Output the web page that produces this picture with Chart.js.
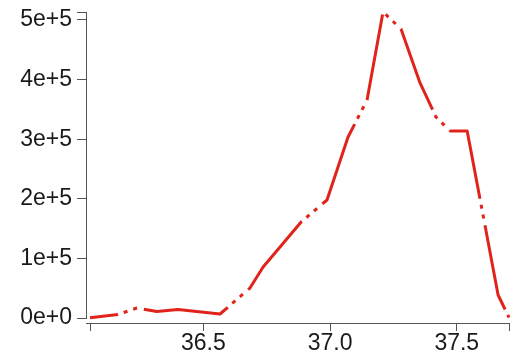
<!DOCTYPE html>
<html>
<head>
<meta charset="utf-8">
<script src="https://cdn.jsdelivr.net/npm/chart.js@4.4.1/dist/chart.umd.min.js"></script>
<style>
    html, body { margin: 0; padding: 0; background: #fff; }
    canvas { display: block; }
</style>
</head>
<body>
<canvas id="grafico" width="520" height="361"></canvas>
<script>
// datos
const valoresX = [36.053, 36.163, 36.238, 36.317, 36.400, 36.566, 36.684, 36.736, 36.886, 36.988,
    37.071, 37.146, 37.209, 37.280, 37.355, 37.418, 37.474, 37.541, 37.663, 37.706];
const valoresY = [500, 5900, 16800, 10900, 14300, 6700, 50300, 85600, 161100, 198000,
    303700, 365800, 513400, 484900, 394300, 337200, 313800, 313800, 38600, 800];

const ticksX = [36.5, 37.0, 37.5];
const etiquetasX = ["36.5", "37.0", "37.5"];
const ticksY = [0, 100000, 200000, 300000, 400000, 500000];
const etiquetasY = ["0e+0", "1e+5", "2e+5", "3e+5", "4e+5", "5e+5"];

const colorEje = "#555555";
const colorTexto = "#1a1a1a";

function sinRelleno(scale) {
    scale.paddingTop = 0;
    scale.paddingBottom = 0;
    scale.paddingLeft = 0;
    scale.paddingRight = 0;
}

document.addEventListener("DOMContentLoaded", function () {
    const ctx = document.getElementById("grafico").getContext("2d");
    const xMin = valoresX[0];
    const xMax = valoresX[valoresX.length - 1];
    const yMax = Math.max(...valoresY);
    const puntos = valoresX.map((x, i) => ({ x: x, y: valoresY[i] }));

    new Chart(ctx, {
        type: "line",
        data: {
            datasets: [
                {
                    data: puntos,
                    borderColor: "#e0241b",
                    borderWidth: 3,
                    borderDash: [87, 6, 4, 6, 4, 7],
                    borderDashOffset: 58.8,
                    borderCapStyle: "butt",
                    borderJoinStyle: "round",
                    pointRadius: 0,
                    tension: 0,
                    fill: false,
                    clip: false,
                },
            ],
        },
        options: {
            responsive: false,
            animation: false,
            layout: { padding: { left: 0, right: 11, top: 12, bottom: 43 } },
            plugins: { legend: { display: false }, tooltip: { enabled: false } },
            scales: {
                x: {
                    type: "linear",
                    min: xMin - 0.0158,
                    max: xMax,
                    position: { y: -8400 },
                    afterBuildTicks: (scale) => {
                        scale.ticks = [xMin, ...ticksX, xMax].map((v) => ({ value: v }));
                    },
                    afterFit: sinRelleno,
                    grid: { drawOnChartArea: false, drawTicks: true, tickLength: 7, color: colorEje },
                    border: { display: true, color: colorEje, width: 1 },
                    ticks: {
                        autoSkip: false,
                        maxRotation: 0,
                        padding: 0,
                        color: colorTexto,
                        font: { family: "Liberation Sans", size: 23 },
                        callback: function (value) {
                            const i = ticksX.indexOf(value);
                            return i >= 0 ? etiquetasX[i] : "";
                        },
                    },
                },
                y: {
                    type: "linear",
                    position: "left",
                    min: 0,
                    max: yMax,
                    afterBuildTicks: (scale) => {
                        scale.ticks = [...ticksY, yMax].map((v) => ({ value: v }));
                    },
                    afterFit: (scale) => {
                        sinRelleno(scale);
                        scale.width = 86;
                    },
                    grid: { drawOnChartArea: false, drawTicks: true, tickLength: 9, color: colorEje },
                    border: { display: true, color: colorEje, width: 1 },
                    ticks: {
                        autoSkip: false,
                        padding: 5,
                        color: colorTexto,
                        font: { family: "Liberation Sans", size: 23 },
                        callback: function (value) {
                            const i = ticksY.indexOf(value);
                            return i >= 0 ? etiquetasY[i] : "";
                        },
                    },
                },
            },
        },
    });
});
</script>
</body>
</html>
